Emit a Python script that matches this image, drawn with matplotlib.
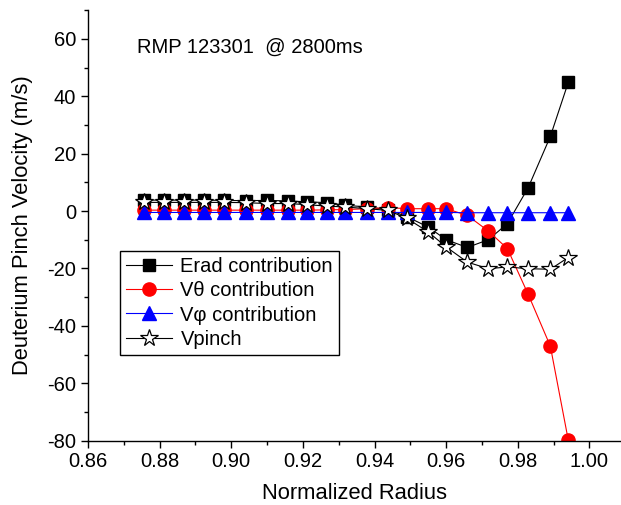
import matplotlib
matplotlib.use("Agg")
import matplotlib.pyplot as plt
from matplotlib.ticker import MultipleLocator

plt.rcParams['font.family'] = ['Liberation Sans', 'DejaVu Sans']
plt.rcParams['axes.unicode_minus'] = False

# normalized radius of each point
radius = [0.8756, 0.8812, 0.8868, 0.8924, 0.8980, 0.9041, 0.9100, 0.9159,
          0.9212, 0.9268, 0.9318, 0.9380, 0.9438, 0.9491, 0.9550, 0.9600,
          0.9659, 0.9718, 0.9771, 0.9829, 0.9891, 0.9941]

erad = [3.8, 3.8, 3.8, 3.8, 3.7, 3.6, 3.7, 3.5, 3.2, 2.9, 2.0, 1.4,
        0.5, -2.0, -5.6, -10.0, -12.7, -10.0, -4.4, 8.1, 26.0, 44.8]
vtheta = [0.3, 0.3, 0.3, 0.3, 0.3, 0.3, 0.3, 0.3, 0.3, 0.4, 0.5, 0.8,
          1.2, 0.8, 0.8, 0.8, -1.5, -7.0, -13.1, -29.0, -47.1, -79.8]
vphi = [-0.5, -0.5, -0.5, -0.5, -0.5, -0.5, -0.5, -0.5, -0.5, -0.5, -0.5, -0.5,
        -0.5, -0.5, -0.5, -0.5, -0.6, -0.6, -0.6, -0.6, -0.6, -0.6]
vpinch = [3.0, 3.0, 3.0, 3.0, 3.0, 2.9, 2.6, 2.6, 2.2, 1.7, 1.4, 0.8,
          0.2, -2.6, -7.3, -12.5, -17.8, -20.1, -19.5, -20.1, -20.3, -16.2]

fig = plt.figure(figsize=(6.21, 5.05), dpi=100)
ax = fig.add_axes([0.1417, 0.1275, 0.857, 0.8525])

ax.plot(radius, erad, color="black", lw=0.8, marker="s", ms=8.5,
        mfc="black", mec="black", label="Erad contribution")
ax.plot(radius, vtheta, color="red", lw=0.8, marker="o", ms=9.5,
        mfc="red", mec="red", label="V\u03b8 contribution")
ax.plot(radius, vphi, color="blue", lw=0.8, marker="^", ms=9.5,
        mfc="blue", mec="blue", label="V\u03c6 contribution")
ax.plot(radius, vpinch, color="black", lw=0.8, marker="*", ms=13,
        mfc="white", mec="black", mew=0.9, label="Vpinch")

ax.set_xlim(0.86, 1.0086)
ax.set_ylim(-80, 70)
ax.xaxis.set_major_locator(MultipleLocator(0.02))
ax.xaxis.set_minor_locator(MultipleLocator(0.01))
ax.yaxis.set_major_locator(MultipleLocator(20))
ax.yaxis.set_minor_locator(MultipleLocator(10))
ax.xaxis.set_major_formatter(plt.FormatStrFormatter("%.2f"))

ax.spines["top"].set_visible(False)
ax.spines["right"].set_visible(False)
for s in ["left", "bottom"]:
    ax.spines[s].set_linewidth(1.0)
ax.tick_params(which="major", direction="out", length=5, width=1, labelsize=14.5)
ax.tick_params(which="minor", direction="out", length=3, width=1)

ax.set_xlabel("Normalized Radius", fontsize=15.8, labelpad=8)
ax.set_ylabel("Deuterium Pinch Velocity (m/s)", fontsize=15.8, labelpad=10)

fig.text(137 / 621, 1 - 47 / 505, "RMP 123301  @ 2800ms", fontsize=14.5,
         va="center", ha="left")

leg = ax.legend(loc="upper left", bbox_to_anchor=(120 / 621, 1 - 251 / 505),
                bbox_transform=fig.transFigure, borderaxespad=0,
                fontsize=14.5, frameon=True, fancybox=False, edgecolor="black",
                framealpha=1, handlelength=2.3, handletextpad=0.4,
                borderpad=0.3, labelspacing=0.26)
leg.get_frame().set_linewidth(1.0)

fig.savefig("out.png", dpi=100)
